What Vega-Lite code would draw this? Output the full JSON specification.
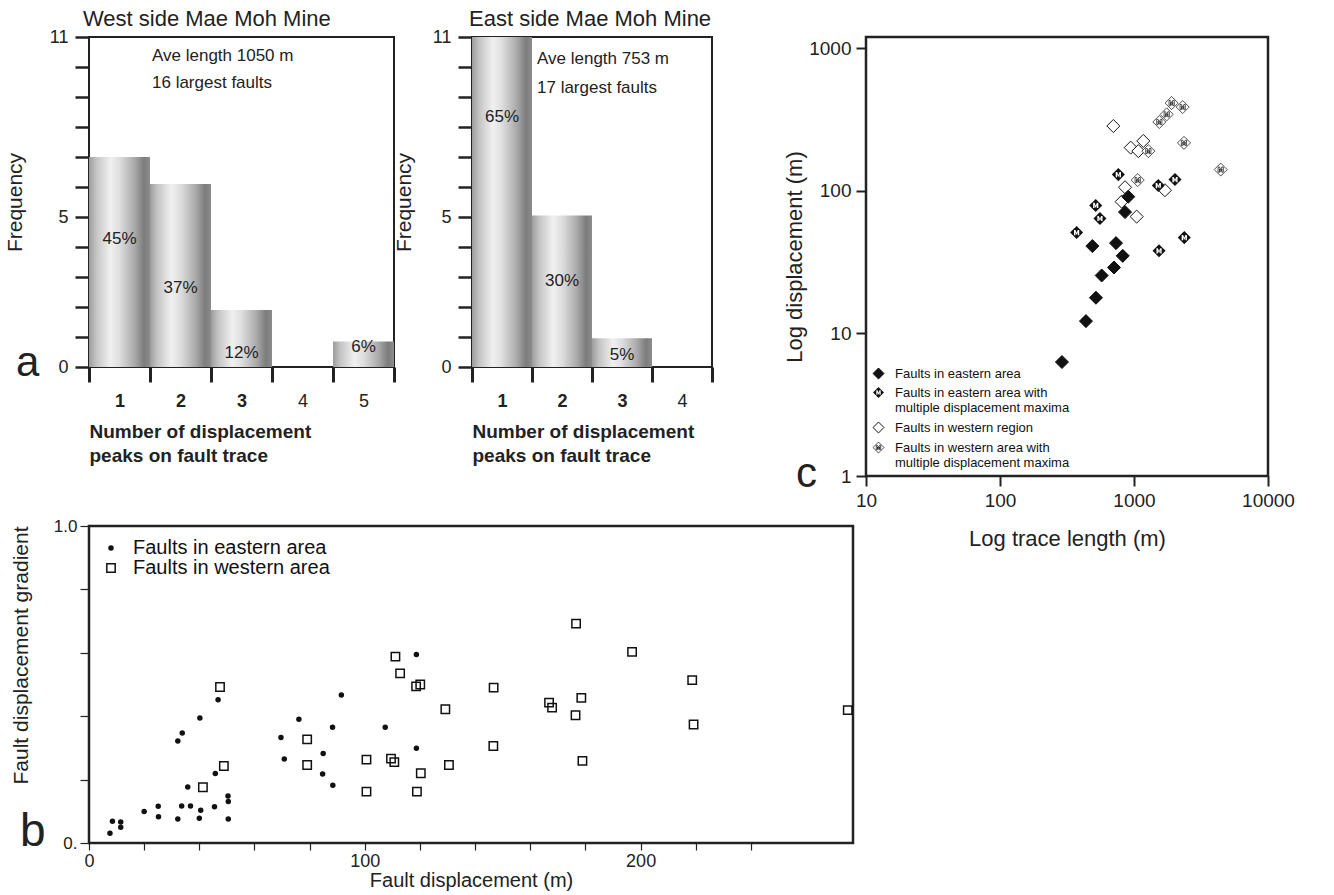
{
  "$schema": "https://vega.github.io/schema/vega-lite/v6.json",
  "background": "white",
  "padding": {"left": 3, "top": 7, "right": 5, "bottom": 5},
  "config": {
    "font": "Liberation Sans",
    "view": {"stroke": "#222", "strokeWidth": 2},
    "axis": {"labelColor": "#222", "titleColor": "#222", "tickColor": "#222", "grid": false, "domain": false, "titleFontWeight": "normal"},
    "title": {"color": "#222"}
  },
  "resolve": {
    "scale": {"shape": "independent", "fill": "independent", "size": "independent", "strokeWidth": "independent", "stroke": "independent"},
    "legend": {"shape": "independent", "fill": "independent", "size": "independent", "strokeWidth": "independent", "stroke": "independent"}
  },
  "datasets": {
    "west": [
      {"peaks": "1", "frequency": 7, "label": "45%", "label_y": 4.28},
      {"peaks": "2", "frequency": 6.1, "label": "37%", "label_y": 2.64},
      {"peaks": "3", "frequency": 1.9, "label": "12%", "label_y": 0.47},
      {"peaks": "4", "frequency": 0, "label": "", "label_y": 0},
      {"peaks": "5", "frequency": 0.85, "label": "6%", "label_y": 0.67}
    ],
    "east": [
      {"peaks": "1", "frequency": 11, "label": "65%", "label_y": 8.34},
      {"peaks": "2", "frequency": 5.05, "label": "30%", "label_y": 2.88},
      {"peaks": "3", "frequency": 0.96, "label": "5%", "label_y": 0.4},
      {"peaks": "4", "frequency": 0, "label": "", "label_y": 0}
    ],
    "west_notes": [
      {"text": "Ave length 1050 m", "peaks": "2", "level": 10.37},
      {"text": "16 largest faults", "peaks": "2", "level": 9.46}
    ],
    "east_notes": [
      {"text": "Ave length 753 m", "peaks": "2", "level": 10.27},
      {"text": "17 largest faults", "peaks": "2", "level": 9.3}
    ],
    "b": [
      {"displacement": 7.6, "gradient": 0.031, "area": "Faults in eastern area"},
      {"displacement": 8.5, "gradient": 0.069, "area": "Faults in eastern area"},
      {"displacement": 11.5, "gradient": 0.066, "area": "Faults in eastern area"},
      {"displacement": 11.5, "gradient": 0.05, "area": "Faults in eastern area"},
      {"displacement": 20.0, "gradient": 0.099, "area": "Faults in eastern area"},
      {"displacement": 25.1, "gradient": 0.116, "area": "Faults in eastern area"},
      {"displacement": 25.2, "gradient": 0.083, "area": "Faults in eastern area"},
      {"displacement": 32.2, "gradient": 0.322, "area": "Faults in eastern area"},
      {"displacement": 33.8, "gradient": 0.347, "area": "Faults in eastern area"},
      {"displacement": 32.2, "gradient": 0.076, "area": "Faults in eastern area"},
      {"displacement": 33.6, "gradient": 0.117, "area": "Faults in eastern area"},
      {"displacement": 35.8, "gradient": 0.177, "area": "Faults in eastern area"},
      {"displacement": 36.8, "gradient": 0.117, "area": "Faults in eastern area"},
      {"displacement": 40.2, "gradient": 0.394, "area": "Faults in eastern area"},
      {"displacement": 40.5, "gradient": 0.103, "area": "Faults in eastern area"},
      {"displacement": 40.0, "gradient": 0.078, "area": "Faults in eastern area"},
      {"displacement": 45.5, "gradient": 0.114, "area": "Faults in eastern area"},
      {"displacement": 45.8, "gradient": 0.219, "area": "Faults in eastern area"},
      {"displacement": 46.8, "gradient": 0.452, "area": "Faults in eastern area"},
      {"displacement": 50.4, "gradient": 0.148, "area": "Faults in eastern area"},
      {"displacement": 50.5, "gradient": 0.131, "area": "Faults in eastern area"},
      {"displacement": 50.5, "gradient": 0.076, "area": "Faults in eastern area"},
      {"displacement": 69.6, "gradient": 0.333, "area": "Faults in eastern area"},
      {"displacement": 70.8, "gradient": 0.265, "area": "Faults in eastern area"},
      {"displacement": 76.1, "gradient": 0.39, "area": "Faults in eastern area"},
      {"displacement": 91.5, "gradient": 0.467, "area": "Faults in eastern area"},
      {"displacement": 88.3, "gradient": 0.365, "area": "Faults in eastern area"},
      {"displacement": 84.9, "gradient": 0.282, "area": "Faults in eastern area"},
      {"displacement": 84.7, "gradient": 0.218, "area": "Faults in eastern area"},
      {"displacement": 88.4, "gradient": 0.182, "area": "Faults in eastern area"},
      {"displacement": 107.4, "gradient": 0.365, "area": "Faults in eastern area"},
      {"displacement": 118.7, "gradient": 0.595, "area": "Faults in eastern area"},
      {"displacement": 118.7, "gradient": 0.299, "area": "Faults in eastern area"},
      {"displacement": 47.5, "gradient": 0.492, "area": "Faults in western area"},
      {"displacement": 48.9, "gradient": 0.243, "area": "Faults in western area"},
      {"displacement": 41.3, "gradient": 0.176, "area": "Faults in western area"},
      {"displacement": 79.1, "gradient": 0.327, "area": "Faults in western area"},
      {"displacement": 79.1, "gradient": 0.246, "area": "Faults in western area"},
      {"displacement": 100.6, "gradient": 0.263, "area": "Faults in western area"},
      {"displacement": 100.6, "gradient": 0.162, "area": "Faults in western area"},
      {"displacement": 111.1, "gradient": 0.588, "area": "Faults in western area"},
      {"displacement": 112.8, "gradient": 0.535, "area": "Faults in western area"},
      {"displacement": 118.6, "gradient": 0.494, "area": "Faults in western area"},
      {"displacement": 120.1, "gradient": 0.5, "area": "Faults in western area"},
      {"displacement": 109.5, "gradient": 0.266, "area": "Faults in western area"},
      {"displacement": 110.7, "gradient": 0.255, "area": "Faults in western area"},
      {"displacement": 120.3, "gradient": 0.22, "area": "Faults in western area"},
      {"displacement": 118.9, "gradient": 0.162, "area": "Faults in western area"},
      {"displacement": 129.2, "gradient": 0.422, "area": "Faults in western area"},
      {"displacement": 130.5, "gradient": 0.246, "area": "Faults in western area"},
      {"displacement": 146.7, "gradient": 0.49, "area": "Faults in western area"},
      {"displacement": 146.6, "gradient": 0.306, "area": "Faults in western area"},
      {"displacement": 166.8, "gradient": 0.443, "area": "Faults in western area"},
      {"displacement": 167.9, "gradient": 0.427, "area": "Faults in western area"},
      {"displacement": 176.6, "gradient": 0.692, "area": "Faults in western area"},
      {"displacement": 176.4, "gradient": 0.403, "area": "Faults in western area"},
      {"displacement": 196.9, "gradient": 0.603, "area": "Faults in western area"},
      {"displacement": 218.7, "gradient": 0.514, "area": "Faults in western area"},
      {"displacement": 178.5, "gradient": 0.458, "area": "Faults in western area"},
      {"displacement": 219.2, "gradient": 0.374, "area": "Faults in western area"},
      {"displacement": 178.9, "gradient": 0.259, "area": "Faults in western area"},
      {"displacement": 275.1, "gradient": 0.419, "area": "Faults in western area"}
    ],
    "c": [
      {"trace_length": 701, "displacement": 285, "group": "Faults in western region"},
      {"trace_length": 945, "displacement": 201, "group": "Faults in western region"},
      {"trace_length": 1173, "displacement": 224, "group": "Faults in western region"},
      {"trace_length": 1077, "displacement": 190, "group": "Faults in western region"},
      {"trace_length": 857, "displacement": 106, "group": "Faults in western region"},
      {"trace_length": 809, "displacement": 84, "group": "Faults in western region"},
      {"trace_length": 1702, "displacement": 101, "group": "Faults in western region"},
      {"trace_length": 1047, "displacement": 66, "group": "Faults in western region"},
      {"trace_length": 1910, "displacement": 413, "group": "Faults in western area with|multiple displacement maxima"},
      {"trace_length": 2308, "displacement": 387, "group": "Faults in western area with|multiple displacement maxima"},
      {"trace_length": 1754, "displacement": 344, "group": "Faults in western area with|multiple displacement maxima"},
      {"trace_length": 1545, "displacement": 304, "group": "Faults in western area with|multiple displacement maxima"},
      {"trace_length": 1279, "displacement": 190, "group": "Faults in western area with|multiple displacement maxima"},
      {"trace_length": 2361, "displacement": 217, "group": "Faults in western area with|multiple displacement maxima"},
      {"trace_length": 4436, "displacement": 141, "group": "Faults in western area with|multiple displacement maxima"},
      {"trace_length": 1066, "displacement": 119, "group": "Faults in western area with|multiple displacement maxima"},
      {"trace_length": 764, "displacement": 130, "group": "Faults in eastern area with|multiple displacement maxima"},
      {"trace_length": 2023, "displacement": 120, "group": "Faults in eastern area with|multiple displacement maxima"},
      {"trace_length": 1518, "displacement": 109, "group": "Faults in eastern area with|multiple displacement maxima"},
      {"trace_length": 518, "displacement": 79, "group": "Faults in eastern area with|multiple displacement maxima"},
      {"trace_length": 557, "displacement": 64, "group": "Faults in eastern area with|multiple displacement maxima"},
      {"trace_length": 373, "displacement": 51, "group": "Faults in eastern area with|multiple displacement maxima"},
      {"trace_length": 2373, "displacement": 47, "group": "Faults in eastern area with|multiple displacement maxima"},
      {"trace_length": 1538, "displacement": 38, "group": "Faults in eastern area with|multiple displacement maxima"},
      {"trace_length": 906, "displacement": 91, "group": "Faults in eastern area"},
      {"trace_length": 857, "displacement": 71, "group": "Faults in eastern area"},
      {"trace_length": 489, "displacement": 41, "group": "Faults in eastern area"},
      {"trace_length": 734, "displacement": 43, "group": "Faults in eastern area"},
      {"trace_length": 824, "displacement": 35, "group": "Faults in eastern area"},
      {"trace_length": 709, "displacement": 29, "group": "Faults in eastern area"},
      {"trace_length": 574, "displacement": 25.5, "group": "Faults in eastern area"},
      {"trace_length": 520, "displacement": 17.8, "group": "Faults in eastern area"},
      {"trace_length": 438, "displacement": 12.2, "group": "Faults in eastern area"},
      {"trace_length": 290, "displacement": 6.3, "group": "Faults in eastern area"}
    ]
  },
  "spacing": -75,
  "hconcat": [
    {
      "spacing": 49,
      "resolve": {
        "scale": {"shape": "independent", "fill": "independent", "size": "independent", "stroke": "independent"},
        "legend": {"shape": "independent", "fill": "independent", "size": "independent", "stroke": "independent"}
      },
      "vconcat": [
        {
          "spacing": -5,
          "hconcat": [
            {
              "width": 305,
              "height": 330,
              "title": {"text": "West side Mae Moh Mine", "anchor": "start", "frame": "group", "fontSize": 22, "fontWeight": "normal", "offset": -3, "dx": -6},
              "layer": [
                {
                  "data": {"name": "west"},
                  "mark": {"type": "bar", "width": {"band": 1}, "fill": {"gradient": "linear", "x1": 0, "y1": 0, "x2": 1, "y2": 0, "stops": [{"offset": 0, "color": "#9c9c9c"}, {"offset": 0.12, "color": "#c4c4c4"}, {"offset": 0.35, "color": "#f0f0f0"}, {"offset": 0.5, "color": "#dedede"}, {"offset": 0.75, "color": "#a9a9a9"}, {"offset": 0.9, "color": "#7c7c7c"}, {"offset": 1, "color": "#8c8c8c"}]}},
                  "encoding": {
                    "x": {"field": "peaks", "type": "ordinal", "scale": {"domain": ["1", "2", "3", "4", "5"], "paddingInner": 0, "paddingOuter": 0},
                      "axis": {"title": ["Number of displacement", "peaks on fault trace"], "titleFontSize": 19, "titleFontWeight": "bold", "titleAnchor": "start", "titleAlign": "left", "titlePadding": 12, "titleLineHeight": 24, "labelAngle": 0, "labelFontSize": 18, "labelFontWeight": {"condition": {"test": "datum.value=='1'||datum.value=='2'||datum.value=='3'", "value": "bold"}, "value": "normal"}, "labelPadding": 10, "tickBand": "extent", "tickSize": 15, "tickWidth": 3}},
                    "y": {"field": "frequency", "type": "quantitative", "scale": {"domain": [0, 11], "nice": false},
                      "axis": {"title": "Frequency", "titleFontSize": 21, "titlePadding": 24, "values": [0, 1, 2, 3, 4, 5, 6, 7, 8, 9, 10, 11], "labelOverlap": false, "labelExpr": "(datum.value==0||datum.value==5||datum.value==11)?datum.label:''", "labelFontSize": 18, "labelPadding": 7, "tickSize": 14, "tickWidth": 2.5}}
                  }
                },
                {
                  "data": {"name": "west"},
                  "mark": {"type": "text", "fontSize": 17, "baseline": "middle", "color": "#222"},
                  "encoding": {"x": {"field": "peaks", "type": "ordinal"},
                    "y": {"field": "label_y", "type": "quantitative", "axis": {"title": "Frequency", "titleFontSize": 21, "titlePadding": 24, "values": [0, 1, 2, 3, 4, 5, 6, 7, 8, 9, 10, 11], "labelOverlap": false, "labelExpr": "(datum.value==0||datum.value==5||datum.value==11)?datum.label:''", "labelFontSize": 18, "labelPadding": 7, "tickSize": 14, "tickWidth": 2.5}},
                    "text": {"field": "label"}}
                },
                {
                  "data": {"name": "west_notes"},
                  "mark": {"type": "text", "fontSize": 17, "align": "left", "baseline": "middle", "dx": 2, "color": "#222"},
                  "encoding": {"x": {"field": "peaks", "type": "ordinal", "bandPosition": 0},
                    "y": {"field": "level", "type": "quantitative", "axis": {"title": "Frequency", "titleFontSize": 21, "titlePadding": 24, "values": [0, 1, 2, 3, 4, 5, 6, 7, 8, 9, 10, 11], "labelOverlap": false, "labelExpr": "(datum.value==0||datum.value==5||datum.value==11)?datum.label:''", "labelFontSize": 18, "labelPadding": 7, "tickSize": 14, "tickWidth": 2.5}},
                    "text": {"field": "text"}}
                },
                {
                  "data": {"values": [{"letter": "a", "peaks": "1", "level": 0}]},
                  "mark": {"type": "text", "fontSize": 42, "align": "left", "baseline": "alphabetic", "dx": -73, "dy": 9, "color": "#222"},
                  "encoding": {"x": {"field": "peaks", "type": "ordinal", "bandPosition": 0},
                    "y": {"field": "level", "type": "quantitative", "axis": {"title": "Frequency", "titleFontSize": 21, "titlePadding": 24, "values": [0, 1, 2, 3, 4, 5, 6, 7, 8, 9, 10, 11], "labelOverlap": false, "labelExpr": "(datum.value==0||datum.value==5||datum.value==11)?datum.label:''", "labelFontSize": 18, "labelPadding": 7, "tickSize": 14, "tickWidth": 2.5}},
                    "text": {"field": "letter"}}
                }
              ]
            },
            {
              "width": 240,
              "height": 330,
              "title": {"text": "East side Mae Moh Mine", "anchor": "start", "frame": "group", "fontSize": 22, "fontWeight": "normal", "offset": -3, "dx": -3},
              "layer": [
                {
                  "data": {"name": "east"},
                  "mark": {"type": "bar", "width": {"band": 1}, "fill": {"gradient": "linear", "x1": 0, "y1": 0, "x2": 1, "y2": 0, "stops": [{"offset": 0, "color": "#9c9c9c"}, {"offset": 0.12, "color": "#c4c4c4"}, {"offset": 0.35, "color": "#f0f0f0"}, {"offset": 0.5, "color": "#dedede"}, {"offset": 0.75, "color": "#a9a9a9"}, {"offset": 0.9, "color": "#7c7c7c"}, {"offset": 1, "color": "#8c8c8c"}]}},
                  "encoding": {
                    "x": {"field": "peaks", "type": "ordinal", "scale": {"domain": ["1", "2", "3", "4"], "paddingInner": 0, "paddingOuter": 0},
                      "axis": {"title": ["Number of displacement", "peaks on fault trace"], "titleFontSize": 19, "titleFontWeight": "bold", "titleAnchor": "start", "titleAlign": "left", "titlePadding": 12, "titleLineHeight": 24, "labelAngle": 0, "labelFontSize": 18, "labelFontWeight": {"condition": {"test": "datum.value=='1'||datum.value=='2'||datum.value=='3'", "value": "bold"}, "value": "normal"}, "labelPadding": 10, "tickBand": "extent", "tickSize": 15, "tickWidth": 3}},
                    "y": {"field": "frequency", "type": "quantitative", "scale": {"domain": [0, 11], "nice": false},
                      "axis": {"title": "Frequency", "titleFontSize": 21, "titlePadding": 18, "values": [0, 1, 2, 3, 4, 5, 6, 7, 8, 9, 10, 11], "labelOverlap": false, "labelExpr": "(datum.value==0||datum.value==5||datum.value==11)?datum.label:''", "labelFontSize": 18, "labelPadding": 7, "tickSize": 14, "tickWidth": 2.5}}
                  }
                },
                {
                  "data": {"name": "east"},
                  "mark": {"type": "text", "fontSize": 17, "baseline": "middle", "color": "#222"},
                  "encoding": {"x": {"field": "peaks", "type": "ordinal"},
                    "y": {"field": "label_y", "type": "quantitative", "axis": {"title": "Frequency", "titleFontSize": 21, "titlePadding": 18, "values": [0, 1, 2, 3, 4, 5, 6, 7, 8, 9, 10, 11], "labelOverlap": false, "labelExpr": "(datum.value==0||datum.value==5||datum.value==11)?datum.label:''", "labelFontSize": 18, "labelPadding": 7, "tickSize": 14, "tickWidth": 2.5}},
                    "text": {"field": "label"}}
                },
                {
                  "data": {"name": "east_notes"},
                  "mark": {"type": "text", "fontSize": 17, "align": "left", "baseline": "middle", "dx": 5, "color": "#222"},
                  "encoding": {"x": {"field": "peaks", "type": "ordinal", "bandPosition": 0},
                    "y": {"field": "level", "type": "quantitative", "axis": {"title": "Frequency", "titleFontSize": 21, "titlePadding": 18, "values": [0, 1, 2, 3, 4, 5, 6, 7, 8, 9, 10, 11], "labelOverlap": false, "labelExpr": "(datum.value==0||datum.value==5||datum.value==11)?datum.label:''", "labelFontSize": 18, "labelPadding": 7, "tickSize": 14, "tickWidth": 2.5}},
                    "text": {"field": "text"}}
                }
              ]
            }
          ]
        },
        {
          "width": 764,
          "height": 317,
          "view": {"stroke": "#222", "strokeWidth": 2.5},
          "layer": [
            {
              "data": {"name": "b"},
              "mark": {"type": "point", "filled": true, "opacity": 1, "strokeWidth": 1.5},
              "encoding": {
                "x": {"field": "displacement", "type": "quantitative", "scale": {"domain": [0, 277], "nice": false, "zero": false},
                  "axis": {"title": "Fault displacement (m)", "titleFontSize": 20, "titlePadding": 0, "values": [0, 20, 40, 60, 80, 100, 120, 140, 160, 180, 200, 220, 240], "labelExpr": "datum.value%100==0?datum.label:''", "labelFontSize": 18, "labelPadding": 2, "labelFlush": false, "tickSize": 7, "tickWidth": 1.2}},
                "y": {"field": "gradient", "type": "quantitative", "scale": {"domain": [0, 1], "nice": false},
                  "axis": {"title": "Fault displacement gradient", "titleFontSize": 21, "titleAnchor": "end", "titlePadding": 22, "values": [0, 0.1, 0.2, 0.3, 0.4, 0.5, 0.6, 0.7, 0.8, 0.9, 1], "labelExpr": "datum.value==0?'0.':datum.value==0.5?'0.5':datum.value==1?'1.0':''", "labelFontSize": 17, "labelPadding": 3, "tickSize": 9, "tickWidth": 1.2}},
                "shape": {"field": "area", "type": "nominal", "scale": {"domain": ["Faults in eastern area", "Faults in western area"], "range": ["circle", "square"]},
                  "legend": {"title": null, "orient": "top-left", "offset": 12, "padding": 0, "labelFontSize": 20, "labelColor": "#111", "labelOffset": 12, "rowPadding": 0, "symbolStrokeWidth": 1.5, "labelLimit": 400}},
                "fill": {"field": "area", "type": "nominal", "scale": {"domain": ["Faults in eastern area", "Faults in western area"], "range": ["#111111", "transparent"]},
                  "legend": {"title": null, "orient": "top-left", "offset": 12, "padding": 0, "labelFontSize": 20, "labelColor": "#111", "labelOffset": 12, "rowPadding": 0, "symbolStrokeWidth": 1.5, "labelLimit": 400}},
                "stroke": {"field": "area", "type": "nominal", "scale": {"domain": ["Faults in eastern area", "Faults in western area"], "range": ["#111111", "#111111"]},
                  "legend": {"title": null, "orient": "top-left", "offset": 12, "padding": 0, "labelFontSize": 20, "labelColor": "#111", "labelOffset": 12, "rowPadding": 0, "symbolStrokeWidth": 1.5, "labelLimit": 400}},
                "size": {"field": "area", "type": "nominal", "scale": {"domain": ["Faults in eastern area", "Faults in western area"], "range": [16, 70]},
                  "legend": {"title": null, "orient": "top-left", "offset": 12, "padding": 0, "labelFontSize": 20, "labelColor": "#111", "labelOffset": 12, "rowPadding": 0, "symbolStrokeWidth": 1.5, "labelLimit": 400}}
              }
            },
            {
              "data": {"values": [{"letter": "b", "displacement": 0, "gradient": 0}]},
              "mark": {"type": "text", "fontSize": 46, "align": "left", "baseline": "alphabetic", "dx": -69, "dy": 3, "color": "#222"},
              "encoding": {"x": {"field": "displacement", "type": "quantitative"}, "y": {"field": "gradient", "type": "quantitative"}, "text": {"field": "letter"}}
            }
          ]
        }
      ]
    },
    {
      "width": 402,
      "height": 439,
      "view": {"stroke": "#222", "strokeWidth": 2.5},
      "layer": [
        {
          "data": {"name": "c"},
          "mark": {"type": "point", "filled": true, "opacity": 1, "size": 170},
          "encoding": {
            "x": {"field": "trace_length", "type": "quantitative", "scale": {"type": "log", "domain": [10, 10000], "nice": false},
              "axis": {"title": "Log trace length (m)", "titleFontSize": 22, "titlePadding": 18, "values": [10, 100, 1000, 10000], "format": "d", "labelFontSize": 19, "labelPadding": 5, "labelFlush": false, "tickSize": 10, "tickWidth": 2}},
            "y": {"field": "displacement", "type": "quantitative", "scale": {"type": "log", "domain": [1, 1200], "nice": false},
              "axis": {"title": "Log displacement (m)", "titleFontSize": 22, "titlePadding": 2, "values": [1, 10, 100, 1000], "format": "d", "labelFontSize": 19, "labelPadding": 5, "tickSize": 10, "tickWidth": 2}},
            "shape": {"field": "group", "type": "nominal",
              "scale": {"domain": ["Faults in eastern area", "Faults in eastern area with|multiple displacement maxima", "Faults in western region", "Faults in western area with|multiple displacement maxima"],
                "range": ["M0,-1L1,0L0,1L-1,0Z", "M0,-1L1,0L0,1L-1,0ZM-0.4,0.4L-0.18,0.4L-0.18,-0.1L-0.06,0.3L0.06,0.3L0.18,-0.1L0.18,0.4L0.4,0.4L0.4,-0.4L0.18,-0.4L0,0.04L-0.18,-0.4L-0.4,-0.4Z", "M0,-1L1,0L0,1L-1,0Z", "M0,-1L1,0L0,1L-1,0ZM-0.4,0.4L-0.18,0.4L-0.18,-0.1L-0.06,0.3L0.06,0.3L0.18,-0.1L0.18,0.4L0.4,0.4L0.4,-0.4L0.18,-0.4L0,0.04L-0.18,-0.4L-0.4,-0.4Z"]},
              "legend": {"title": null, "orient": "bottom-left", "offset": 4, "padding": 2, "labelFontSize": 13, "labelColor": "#111", "labelLimit": 400, "labelOffset": 10, "rowPadding": 5, "symbolSize": 120, "labelExpr": "split(datum.label, '|')"}},
            "fill": {"field": "group", "type": "nominal",
              "scale": {"domain": ["Faults in eastern area", "Faults in eastern area with|multiple displacement maxima", "Faults in western region", "Faults in western area with|multiple displacement maxima"], "range": ["#111111", "#111111", "#ffffff", "#ffffff"]},
              "legend": {"title": null, "orient": "bottom-left", "offset": 4, "padding": 2, "labelFontSize": 13, "labelColor": "#111", "labelLimit": 400, "labelOffset": 10, "rowPadding": 5, "symbolSize": 120, "labelExpr": "split(datum.label, '|')"}},
            "stroke": {"field": "group", "type": "nominal",
              "scale": {"domain": ["Faults in eastern area", "Faults in eastern area with|multiple displacement maxima", "Faults in western region", "Faults in western area with|multiple displacement maxima"], "range": ["#111111", "#111111", "#111111", "#222222"]},
              "legend": {"title": null, "orient": "bottom-left", "offset": 4, "padding": 2, "labelFontSize": 13, "labelColor": "#111", "labelLimit": 400, "labelOffset": 10, "rowPadding": 5, "symbolSize": 120, "labelExpr": "split(datum.label, '|')"}},
            "strokeWidth": {"field": "group", "type": "nominal",
              "scale": {"type": "ordinal", "domain": ["Faults in eastern area", "Faults in eastern area with|multiple displacement maxima", "Faults in western region", "Faults in western area with|multiple displacement maxima"], "range": [1, 0, 1, 0.8]},
              "legend": {"title": null, "orient": "bottom-left", "offset": 4, "padding": 2, "labelFontSize": 13, "labelColor": "#111", "labelLimit": 400, "labelOffset": 10, "rowPadding": 5, "symbolSize": 120, "labelExpr": "split(datum.label, '|')"}}
          }
        },
        {
          "data": {"values": [{"letter": "c", "trace_length": 10, "displacement": 1}]},
          "mark": {"type": "text", "fontSize": 42, "align": "left", "baseline": "alphabetic", "dx": -70, "dy": 11, "color": "#222"},
          "encoding": {"x": {"field": "trace_length", "type": "quantitative"}, "y": {"field": "displacement", "type": "quantitative"}, "text": {"field": "letter"}}
        }
      ]
    }
  ]
}
